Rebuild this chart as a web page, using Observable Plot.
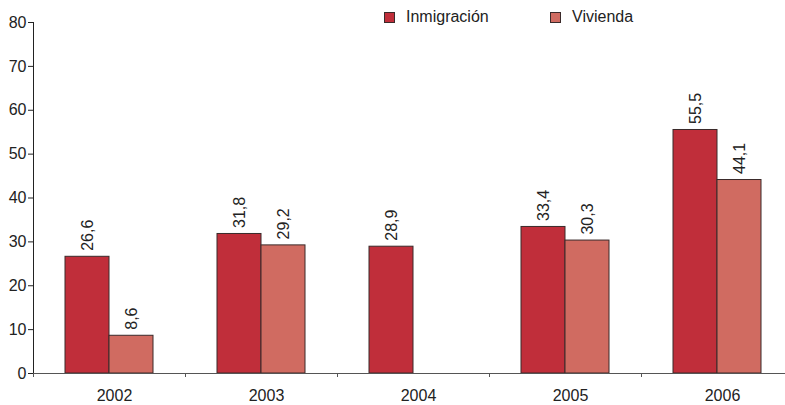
<!DOCTYPE html>
<html>
<head>
<meta charset="utf-8">
<script src="https://cdn.jsdelivr.net/npm/d3@7"></script>
<script src="https://cdn.jsdelivr.net/npm/@observablehq/plot@0.6"></script>
<style>
  html, body { margin: 0; padding: 0; overflow: hidden; background: #fff; }
  #wrap { position: relative; width: 785px; height: 405px; overflow: hidden; font-family: "Liberation Sans", Arial, Helvetica, sans-serif; }
  #wrap svg { display: block; max-width: none !important; }
  #legend { position: absolute; top: 0; left: 0; width: 785px; height: 30px; font-size: 16px; color: #222; }
  .item { position: absolute; top: 6px; display: flex; align-items: center; height: 22px; }
  .sw { width: 11px; height: 11px; border: 1px solid #3a2a2a; box-sizing: border-box; margin-right: 11px; }
</style>
</head>
<body>
<div id="wrap"><div id="legend"></div></div>
<script>
const years = ["2002", "2003", "2004", "2005", "2006"];
const series = ["Inmigración", "Vivienda"];
const inmigracion = [26.6, 31.8, 28.9, 33.4, 55.5];
const vivienda = [8.6, 29.2, null, 30.3, 44.1];
const colors = ["#c02e3a", "#d06b61"];
const yTicks = [0, 10, 20, 30, 40, 50, 60, 70, 80];

const data = [];
years.forEach((y, i) => {
  if (inmigracion[i] != null) data.push({year: y, series: series[0], value: inmigracion[i]});
  if (vivienda[i] != null) data.push({year: y, series: series[1], value: vivienda[i]});
});
const fmt = v => String(v).replace(".", ",");

const chart = Plot.plot({
  width: 793,
  height: 405,
  marginTop: 22,
  marginBottom: 32,
  marginLeft: 33,
  marginRight: 0,
  style: {fontFamily: '"Liberation Sans", Arial, Helvetica, sans-serif', fontSize: "16px", color: "#222", background: "transparent"},
  fx: {domain: years, padding: 0, label: null, axis: null},
  x: {domain: series, paddingInner: 0, paddingOuter: 0.727, axis: null},
  y: {domain: [0, 80], ticks: yTicks, label: null, tickSize: 5, tickPadding: 2, line: true},
  color: {domain: series, range: colors},
  marks: [
    Plot.barY(data, {fx: "year", x: "series", y: "value", fill: "series", stroke: "#3a2a2a", strokeWidth: 1}),
    Plot.text(data, {fx: "year", x: "series", y: "value", text: d => fmt(d.value), rotate: -90, textAnchor: "start", lineAnchor: "middle", dy: -6, fill: "#222", fontSize: 16}),
    Plot.ruleY([0], {stroke: "#555", strokeWidth: 1.2}),
    Plot.axisFx({anchor: "bottom", tickSize: 4, tickFormat: () => "", dx: -76, stroke: "#555", label: null}),
    Plot.axisFx({anchor: "bottom", tickSize: 0, tickPadding: 16, dx: 5, fill: "#222", fontSize: 16, label: null})
  ]
});
document.getElementById("wrap").prepend(chart);

const legend = document.getElementById("legend");
const legendX = [384, 550];
series.forEach((s, i) => {
  const it = document.createElement("div");
  it.className = "item";
  it.style.left = legendX[i] + "px";
  const sw = document.createElement("div");
  sw.className = "sw";
  sw.style.background = colors[i];
  const t = document.createElement("span");
  t.textContent = s;
  it.append(sw, t);
  legend.append(it);
});
</script>
</body>
</html>
